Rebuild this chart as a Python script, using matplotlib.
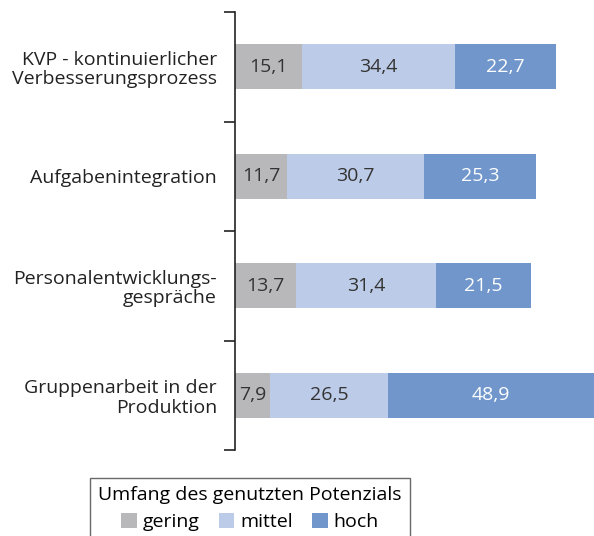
import numpy as np
import matplotlib.pyplot as plt

# data
categories = ["KVP - kontinuierlicher\nVerbesserungsprozess",
              "Aufgabenintegration",
              "Personalentwicklungs-\ngespräche",
              "Gruppenarbeit in der\nProduktion"]
gering = [15.1, 11.7, 13.7, 7.9]
mittel = [34.4, 30.7, 31.4, 26.5]
hoch = [22.7, 25.3, 21.5, 48.9]
series_names = ["gering", "mittel", "hoch"]
colors = ["#b8b8ba", "#bccbe8", "#7096cc"]
text_colors = ["#333333", "#333333", "white"]

plt.rcParams['font.family'] = ['Open Sans', 'DejaVu Sans']

fig = plt.figure(figsize=(5.94, 5.36), dpi=100)
ax = fig.add_axes([235 / 594, 1 - 450 / 536, 1 - 235 / 594, (450 - 12) / 536])

y = np.arange(len(categories))
left = np.zeros(len(categories))
for vals, name, col, tcol in zip([gering, mittel, hoch], series_names, colors, text_colors):
    bars = ax.barh(y, vals, left=left, height=0.41, color=col, label=name)
    labels = [f"{v:.1f}".replace(".", ",") for v in vals]
    ax.bar_label(bars, labels=labels, label_type='center', color=tcol, fontsize=14)
    left += np.array(vals)

ax.set_xlim(0, 80.7)
ax.set_ylim(3.5, -0.5)
ax.set_yticks(y)
ax.set_yticklabels(categories, fontsize=14, color="#222222", linespacing=1.1)
ax.set_yticks(np.arange(-0.5, 4, 1), minor=True)
ax.tick_params(axis='y', which='major', length=0, pad=13)
ax.tick_params(axis='y', which='minor', length=8, width=1.2, direction='out', color="#222222")
ax.set_xticks([])
for side in ['top', 'right', 'bottom']:
    ax.spines[side].set_visible(False)
ax.spines['left'].set_linewidth(1.2)
ax.spines['left'].set_color("#222222")

leg = fig.legend(loc='upper center', bbox_to_anchor=(250 / 594, 1 - 468 / 536), ncol=3,
                 title="Umfang des genutzten Potenzials", fontsize=14, title_fontsize=14,
                 frameon=True, fancybox=False, edgecolor="#444444",
                 handlelength=0.8, handleheight=0.8, handletextpad=0.3, columnspacing=1.0,
                 borderpad=0.4)
leg.get_frame().set_linewidth(1.0)

fig.savefig("out.png", dpi=100)
